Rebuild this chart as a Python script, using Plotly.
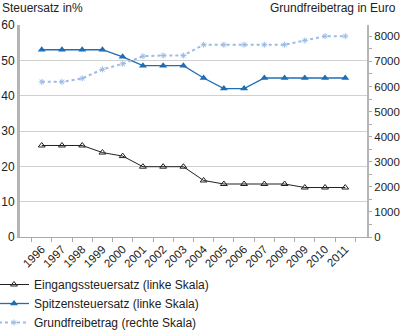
import plotly.graph_objects as go

years = [str(y) for y in range(1996, 2012)]
eingang = [25.9, 25.9, 25.9, 23.9, 22.9, 19.9, 19.9, 19.9, 16.0, 15.0, 15.0, 15.0, 15.0, 14.0, 14.0, 14.0]
spitzen = [53, 53, 53, 53, 51, 48.5, 48.5, 48.5, 45, 42, 42, 45, 45, 45, 45, 45]
grundfrei = [6184, 6184, 6322, 6681, 6902, 7206, 7235, 7235, 7664, 7664, 7664, 7664, 7664, 7834, 8004, 8004]

font = "Liberation Sans, Arial, sans-serif"
PW, PH = 347, 212

fig = go.Figure()
fig.add_trace(go.Scatter(x=years, y=eingang, name="Eingangssteuersatz (linke Skala)",
                         mode="lines+markers", line=dict(color="#222222", width=1),
                         marker=dict(symbol="triangle-up-open", size=6, color="#222222", line=dict(width=1))))
fig.add_trace(go.Scatter(x=years, y=spitzen, name="Spitzensteuersatz (linke Skala)",
                         mode="lines+markers", line=dict(color="#1f6db5", width=1.3),
                         marker=dict(symbol="triangle-up", size=7, color="#1f6db5")))
fig.add_trace(go.Scatter(x=years, y=grundfrei, name="Grundfreibetrag (rechte Skala)", yaxis="y2",
                         mode="lines+markers", line=dict(color="#9dbbe6", width=2, dash="dot"),
                         marker=dict(symbol="asterisk-open", size=5, color="#9dbbe6", line=dict(width=1, color="#9dbbe6"))))

fig.update_layout(
    width=400, height=333,
    margin=dict(l=20, r=33, t=25, b=96, autoexpand=False),
    paper_bgcolor="white", plot_bgcolor="white",
    font=dict(family=font, size=11, color="#222222"),
    showlegend=True,
    legend=dict(x=-26 / PW, y=-33 / PH, xanchor="left", yanchor="top", orientation="v",
                font=dict(size=12), itemwidth=30, tracegroupgap=0, bgcolor="rgba(0,0,0,0)"),
    xaxis=dict(type="category", tickson="boundaries", ticks="outside", ticklen=4, tickcolor="#aaaaaa",
               showline=True, linecolor="#aaaaaa", linewidth=1, showgrid=False, tickangle=-45,
               tickfont=dict(size=11.5)),
    yaxis=dict(range=[0, 60], dtick=10, showgrid=True, gridcolor="#d0d0d0", gridwidth=1,
               showline=True, linecolor="#b5b5b5", linewidth=3, ticks="", zeroline=False,
               tickfont=dict(size=12)),
    yaxis2=dict(range=[0, 8450], dtick=1000, overlaying="y", side="right", showgrid=False,
                showline=True, linecolor="#b5b5b5", linewidth=2, ticks="outside", ticklen=3,
                tickcolor="#aaaaaa", zeroline=False, tickfont=dict(size=11.5), ticklabelstandoff=0,
                minor=dict(dtick=500, ticks="outside", ticklen=3, tickcolor="#aaaaaa")),
    annotations=[
        dict(text="Steuersatz in%", x=-20 / PW, y=1 + 8 / PH, xref="paper", yref="paper",
             xanchor="left", yanchor="bottom", showarrow=False, font=dict(size=12)),
        dict(text="Grundfreibetrag in Euro", x=1 + 31 / PW, y=1 + 8 / PH, xref="paper", yref="paper",
             xanchor="right", yanchor="bottom", showarrow=False, font=dict(size=12)),
    ],
)

fig.write_html("out.html")
